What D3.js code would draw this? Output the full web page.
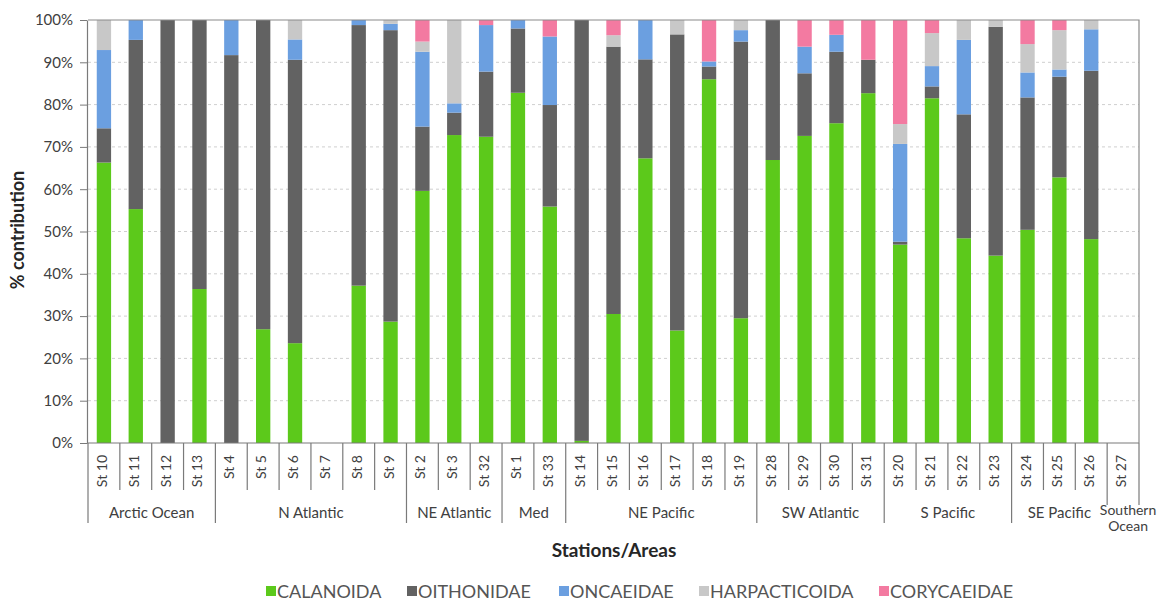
<!DOCTYPE html>
<html>
<head>
<meta charset="utf-8">
<script src="https://cdn.jsdelivr.net/npm/d3@7"></script>
<style>
  html, body { margin: 0; padding: 0; background: #fff; }
  svg { display: block; font-family: Lato, "Open Sans", sans-serif; }
</style>
</head>
<body>
<svg id="chart" width="1161" height="600"></svg>
<script>
// Stations in plotting order, grouped by sea area
const stations = ["St 10","St 11","St 12","St 13",
  "St 4","St 5","St 6","St 7","St 8","St 9",
  "St 2","St 3","St 32",
  "St 1","St 33",
  "St 14","St 15","St 16","St 17","St 18","St 19",
  "St 28","St 29","St 30","St 31",
  "St 20","St 21","St 22","St 23",
  "St 24","St 25","St 26",
  "St 27"];
const areaNames = ["Arctic Ocean","N Atlantic","NE Atlantic","Med","NE Pacific",
  "SW Atlantic","S Pacific","SE Pacific","Southern Ocean"];
const areaSizes = [4, 6, 3, 2, 6, 4, 4, 3, 1];

// Percentage contribution of each taxon per station
const calanoida     = [66.3,55.3,0,36.4, 0,26.9,23.6,0,37.2,28.7, 59.6,72.8,72.4, 82.8,55.9,
  0.5,30.5,67.3,26.6,86.0,29.5, 66.9,72.6,75.6,82.7, 46.9,81.5,48.4,44.3, 50.4,62.8,48.2, 0];
const oithonidae    = [8.1,40.0,100,63.6, 91.7,73.1,67.0,0,61.6,68.9, 15.2,5.3,15.4, 15.2,24.0,
  99.5,63.2,23.4,70.0,3.0,65.4, 33.1,14.8,16.9,7.9, 0.7,2.8,29.3,54.1, 31.3,23.8,39.8, 0];
const oncaeidae     = [18.5,4.7,0,0, 8.3,0,4.8,0,1.2,1.5, 17.7,2.2,11.0, 2.0,16.2,
  0,0,9.3,0,1.2,2.7, 0,6.3,4.0,0, 23.1,4.8,17.6,0, 5.9,1.7,9.8, 0];
const harpacticoida = [7.1,0,0,0, 0,0,4.6,0,0,0.9, 2.4,19.7,0, 0,0,
  0,2.7,0,3.4,0,2.4, 0,0,0,0, 4.7,7.8,4.7,1.6, 6.7,9.3,2.2, 0];
const corycaeidae   = [0,0,0,0, 0,0,0,0,0,0, 5.1,0,1.2, 0,3.9,
  0,3.6,0,0,9.8,0, 0,6.3,3.5,9.4, 24.6,3.1,0,0, 5.7,2.4,0, 0];

const taxa = ["CALANOIDA","OITHONIDAE","ONCAEIDAE","HARPACTICOIDA","CORYCAEIDAE"];
const taxonValues = [calanoida, oithonidae, oncaeidae, harpacticoida, corycaeidae];
const colors = ["#5cc91b","#626262","#6b9fe0","#c8c8c8","#f37aa1"];
const yTicks = [0,10,20,30,40,50,60,70,80,90,100];

const svg = d3.select("#chart");
const plotLeft = 88, plotRight = 1139, plotTop = 20, plotBottom = 443;

const x = d3.scaleBand().domain(stations).range([plotLeft, plotRight]).paddingInner(0.55).paddingOuter(0.275);
const band = d3.scaleBand().domain(stations).range([plotLeft, plotRight]).padding(0);
const y = d3.scaleLinear().domain([0, 100]).range([plotBottom, plotTop]);

// Gridlines
svg.append("g").selectAll("line")
  .data(yTicks.filter(t => t > 0 && t < 100))
  .join("line")
  .attr("x1", plotLeft).attr("x2", plotRight)
  .attr("y1", d => y(d)).attr("y2", d => y(d))
  .attr("stroke", "#cfcfcf").attr("stroke-dasharray", "3,3");

// Stacked bars
const rows = stations.map((s, i) => {
  const r = { station: s };
  taxa.forEach((t, k) => r[t] = taxonValues[k][i]);
  return r;
});
const stack = d3.stack().keys(taxa)(rows);
svg.append("g").selectAll("g")
  .data(stack)
  .join("g")
  .attr("fill", (d, i) => colors[i])
  .selectAll("rect")
  .data(d => d)
  .join("rect")
  .attr("x", d => x(d.data.station))
  .attr("width", x.bandwidth())
  .attr("y", d => y(d[1]))
  .attr("height", d => Math.max(0, y(d[0]) - y(d[1])));

// Plot frame (top and right)
svg.append("path")
  .attr("d", `M${plotLeft},${plotTop}H${plotRight}V${plotBottom}`)
  .attr("fill", "none").attr("stroke", "#8a8a8a").attr("stroke-width", 1.2);

// Y axis
const yAxis = svg.append("g")
  .attr("transform", `translate(${plotLeft - 1},0)`)
  .call(d3.axisLeft(y).tickValues(yTicks).tickFormat(d => d + "%").tickSize(7).tickSizeOuter(0));
yAxis.select(".domain").attr("stroke", "#7a7a7a").attr("stroke-width", 1.2);
yAxis.selectAll(".tick line").attr("stroke", "#7a7a7a");
yAxis.selectAll(".tick text").attr("fill", "#404040").attr("font-size", 15)
  .attr("font-family", "Lato, sans-serif").attr("x", -14);

// X axis baseline
svg.append("line")
  .attr("x1", plotLeft - 1).attr("x2", plotRight)
  .attr("y1", plotBottom).attr("y2", plotBottom)
  .attr("stroke", "#7a7a7a").attr("stroke-width", 1.2);

// Station separators and labels
const axisG = svg.append("g").attr("stroke", "#7a7a7a").attr("stroke-width", 1.2);
const groupStarts = [];
let acc = 0;
areaSizes.forEach(n => { groupStarts.push(acc); acc += n; });
const boundarySet = new Set(groupStarts.concat([stations.length]));
const lastGroupStart = groupStarts[groupStarts.length - 1];

for (let i = 0; i <= stations.length; i++) {
  const xx = i < stations.length ? band(stations[i]) : plotRight;
  let y2 = 490;
  if (boundarySet.has(i)) y2 = (i >= lastGroupStart && i > 0) ? 505 : 523;
  axisG.append("line").attr("x1", xx).attr("x2", xx).attr("y1", plotBottom).attr("y2", y2);
}

svg.append("g").selectAll("text")
  .data(stations)
  .join("text")
  .attr("transform", d => `translate(${band(d) + band.bandwidth() / 2 + 3},455) rotate(-90)`)
  .attr("text-anchor", "end")
  .attr("font-size", 14)
  .attr("fill", "#404040")
  .text(d => d);

// Area labels (the narrow last area wraps onto two lines)
const areaG = svg.append("g").attr("fill", "#404040").attr("text-anchor", "middle");
areaNames.forEach((name, k) => {
  const s = groupStarts[k], e = s + areaSizes[k];
  const x0 = band(stations[s]);
  const x1 = e < stations.length ? band(stations[e]) : plotRight;
  const wrap = name === "Southern Ocean";
  const cx = (x0 + x1) / 2 + (wrap ? 5 : 0);
  const words = wrap ? ["Southern", "Ocean"] : [name];
  const t = areaG.append("text")
    .attr("font-size", wrap ? 14 : 15)
    .attr("x", cx).attr("y", wrap ? 515 : 518);
  words.forEach((w, j) => t.append("tspan").attr("x", cx).attr("dy", j === 0 ? 0 : 16).text(w));
});

// Axis titles
svg.append("text")
  .attr("x", 614).attr("y", 557)
  .attr("text-anchor", "middle")
  .attr("font-size", 19).attr("font-weight", "bold").attr("fill", "#262626")
  .text("Stations/Areas");
svg.append("text")
  .attr("transform", "translate(24,230) rotate(-90)")
  .attr("text-anchor", "middle")
  .attr("font-size", 18).attr("font-weight", "bold").attr("fill", "#262626")
  .text("% contribution");

// Legend
const legendX = [266, 407, 559, 699, 879];
const legend = svg.append("g").selectAll("g")
  .data(taxa)
  .join("g")
  .attr("transform", (d, i) => `translate(${legendX[i]},591)`);
legend.append("rect").attr("x", 0).attr("y", -5).attr("width", 10).attr("height", 10)
  .attr("fill", (d, i) => colors[i]);
legend.append("text").attr("x", 11).attr("y", 6.5)
  .attr("font-size", 18).attr("fill", "#555555").text(d => d);
</script>
</body>
</html>
